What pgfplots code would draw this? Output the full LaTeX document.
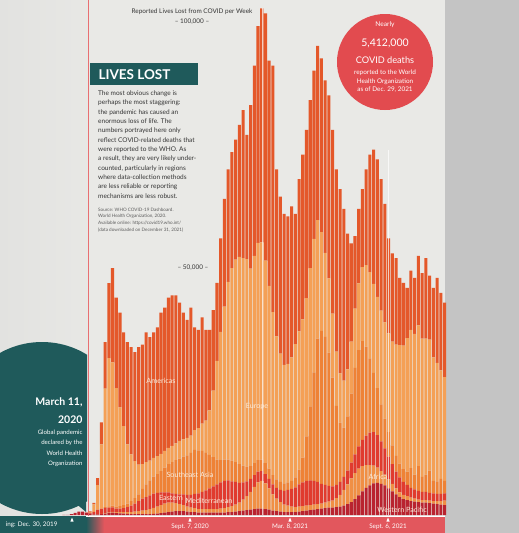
\documentclass[border=0pt]{standalone}
\usepackage{pgfplots}
\pgfplotsset{compat=1.18}
\usepackage{pgfplotstable}
\usepackage{fontspec}
\setmainfont{Lato}
\definecolor{amr}{HTML}{E4582A}
\definecolor{eur}{HTML}{F4A056}
\definecolor{sear}{HTML}{EE8236}
\definecolor{emr}{HTML}{E03B2E}
\definecolor{afr}{HTML}{F08F45}
\definecolor{wpr}{HTML}{B9232F}
\definecolor{tealbox}{HTML}{1F5A5B}
\definecolor{coral}{HTML}{E24B4F}
\definecolor{bandred}{HTML}{E2575D}
\definecolor{pagebg}{HTML}{E9E9E6}
\definecolor{leftbg}{HTML}{E2E2E0}
\definecolor{sidegrey}{HTML}{C4C4C4}
\definecolor{txt}{HTML}{353535}
\definecolor{cream}{HTML}{FCEBD8}

% weekly reported deaths by WHO region, thousands; week 0 = Dec. 30, 2019
\pgfplotstableread{
w wpr afr emr sear eur amr
0 0 0 0 0 0 0
1 0 0 0 0 0 0
2 0.01 0 0 0 0 0
3 0.05 0 0 0 0 0
4 0.2 0 0 0 0 0
5 0.45 0 0 0 0 0
6 0.7 0 0 0 0 0
7 0.7 0 0 0 0 0
8 0.45 0 0.02 0 0 0.03
9 0.3 0 0.15 0 0.2 0.1
10 0.15 0 0.5 0 1.5 0.3
11 0.15 0.01 0.9 0.01 5 1.4
12 0.2 0.03 1.0 0.05 13 4.5
13 0.3 0.06 1.1 0.15 24 9.4
14 0.4 0.1 1.0 0.25 30 15.2
15 0.5 0.15 0.9 0.35 29 19.1
16 0.4 0.2 0.7 0.4 24 18.3
17 0.35 0.25 0.7 0.5 20 19.2
18 0.3 0.3 0.8 0.6 16 19
19 0.25 0.35 1.0 0.7 12 20.7
20 0.2 0.4 1.3 0.9 9.5 21.7
21 0.2 0.5 1.6 1.1 7.5 22.1
22 0.2 0.6 2.0 1.4 6 23.8
23 0.2 0.7 2.4 2.0 5 24.2
24 0.2 0.8 2.6 2.6 4.5 26.3
25 0.2 1.0 2.8 3.0 4 25
26 0.25 1.2 2.9 3.4 3.8 25.45
27 0.3 1.4 2.8 3.8 3.6 26.1
28 0.4 1.6 2.6 4.3 3.5 28.6
29 0.5 1.8 2.3 5.0 3.4 29
30 0.6 1.9 2.1 5.7 3.3 30.4
31 0.7 1.8 1.9 6.3 3.3 30.5
32 0.8 1.6 1.9 6.8 3.4 30
33 0.8 1.4 2.0 7.2 3.6 28
34 0.8 1.2 2.2 7.6 3.5 25.7
35 0.7 1.0 2.4 8.0 3.5 23.9
36 0.6 0.9 2.6 8.5 3.5 25.9
37 0.6 0.8 2.9 8.9 4 20.8
38 0.5 0.7 3.2 8.7 4.5 19.9
39 0.5 0.7 3.5 8.3 5.5 21.5
40 0.5 0.7 3.8 7.6 6.5 18.4
41 0.5 0.7 4.2 6.8 9 16.3
42 0.5 0.7 4.6 5.9 13.5 16.3
43 0.5 0.7 5.0 5.0 20 15.8
44 0.5 0.8 5.3 4.5 26 18.9
45 0.5 0.9 5.5 4.3 31 21.8
46 0.6 1.0 5.4 4.2 36 22.8
47 0.6 1.2 5.0 4.2 39 23.5
48 0.7 1.4 4.6 4.0 41 24.3
49 0.8 1.7 4.0 3.8 42 26.7
50 0.9 2.2 3.5 3.4 42 30
51 1.0 2.8 3.0 3.0 42 25.2
52 1.1 3.6 2.6 2.6 40 33.1
53 1.2 4.5 2.4 2.4 42 38.5
54 1.3 5.3 2.2 2.3 44 43.9
55 1.3 5.6 2.0 2.3 44 47.4
56 1.2 5.2 1.9 2.2 41 50.1
57 1.1 4.3 1.9 2.1 37 45.6
58 0.9 3.3 2.0 1.9 33 49.9
59 0.8 2.5 2.2 1.7 29 33.8
60 0.7 1.9 2.5 1.6 26 31.8
61 0.6 1.5 2.8 1.5 24 30.6
62 0.6 1.3 3.2 1.5 24 29.9
63 0.6 1.1 3.6 1.6 25 30.6
64 0.6 1.0 4.0 2.0 27 26.4
65 0.7 1.0 4.5 3.0 28 30.8
66 0.8 1.0 4.8 5.0 28 33.4
67 0.9 1.0 5.0 9.0 28 34.1
68 1.0 1.0 5.0 15 28 34
69 1.1 1.0 4.8 22 27 34.1
70 1.2 1.0 4.5 29 24 35.3
71 1.3 1.0 4.0 31 20 35.2
72 1.4 1.1 3.6 30 17 34.9
73 1.5 1.2 3.2 27 15 37.1
74 1.5 1.4 2.9 22 13 37.2
75 1.6 1.8 2.7 16 11 36.9
76 1.7 2.4 2.6 12 10 37.3
77 1.9 3.2 2.6 10 9.5 34.8
78 2.2 4.0 2.8 11 9.5 27.5
79 2.6 4.8 3.2 14 10.5 19.9
80 3.2 5.3 3.8 17.5 12 14.7
81 4.0 5.4 4.5 19.5 13.5 15.1
82 4.8 5.1 5.3 20 15 15.8
83 5.5 4.6 6.0 18 16.5 19.4
84 6.0 4.1 6.6 15 17.5 23.8
85 6.4 3.6 6.8 12 18 27.2
86 6.5 3.1 6.6 9.5 18.5 27.8
87 6.3 2.6 6.0 7.5 19 26.6
88 6.0 2.2 5.3 6.0 19.5 24
89 5.4 1.8 4.6 5.0 20 19.2
90 4.8 1.5 4.0 3.8 21 17.9
91 4.2 1.2 3.4 3.2 22.5 17.5
92 3.6 1.0 3.0 2.8 24 13.6
93 3.2 0.9 2.6 2.6 25 12.7
94 3.0 0.8 2.3 2.7 27 10.2
95 2.8 0.7 2.0 4.0 28 12
96 2.7 0.6 1.9 3.0 28.5 11.3
97 2.6 0.5 1.8 5.0 28.5 14.1
98 2.5 0.5 1.7 3.0 28 13.3
99 2.5 0.5 1.7 3.5 27.5 16.3
100 2.4 0.5 1.6 4.5 26.5 13
101 2.3 0.5 1.6 2.5 25 14.1
102 2.2 0.6 1.5 2.5 24 17.2
103 2.1 0.7 1.5 3.0 22 15.7
104 2.0 0.9 1.5 2.5 21 15.1
}\deaths

\begin{document}
\begin{tikzpicture}[x=1pt,y=-1pt]
\path[use as bounding box] (0,0) rectangle (519,533);
\clip (0,0) rectangle (519,533);
% backgrounds
\fill[pagebg] (0,0) rectangle (519,533);
\shade[left color=leftbg, right color=pagebg!80!leftbg] (0,0) rectangle (88,533);
\fill[sidegrey] (445,0) rectangle (519,533);
\draw[color=coral!80!white, line width=1.6pt] (88.5,0) -- (88.5,533);

% title and scale labels
\node[font=\fontsize{6.4}{7}\selectfont, text=txt] at (192,12) {Reported Lives Lost from COVID per Week};
\node[font=\fontsize{6.4}{7}\selectfont, text=txt] at (192,22) {-- 100,000 --};
\node[font=\fontsize{6.4}{7}\selectfont, text=txt] at (193,268) {-- 50,000 --};

% stacked bars
\begin{scope}[x=1pt,y=1pt]
\begin{axis}[at={(54.7pt,-515pt)}, anchor=south west, scale only axis,
  width=391.7pt, height=515pt,
  xmin=-0.5, xmax=104.5, ymin=0, ymax=104.3,
  hide axis, ybar stacked, bar width=0.82]
\addplot[fill=wpr, draw=none] table[x=w, y=wpr] {\deaths};
\addplot[fill=afr, draw=none] table[x=w, y=afr] {\deaths};
\addplot[fill=emr, draw=none] table[x=w, y=emr] {\deaths};
\addplot[fill=sear, draw=none] table[x=w, y=sear] {\deaths};
\addplot[fill=eur, draw=none] table[x=w, y=eur] {\deaths};
\addplot[fill=amr, draw=none] table[x=w, y=amr] {\deaths};
\end{axis}
\end{scope}

% light marker lines
\draw[white, opacity=0.7, line width=0.6pt] (262,8) -- (262,515);
\draw[white, opacity=0.7, line width=0.6pt] (388,150) -- (388,515);

% region labels
\begin{scope}[font=\fontsize{7.2}{8}\selectfont, text=cream]
\node at (161,381) {Americas};
\node at (257,407) {Europe};
\node at (190,475) {Southeast Asia};
\node at (171,498) {Eastern};
\node at (209,501) {Mediterranean};
\node at (378,477) {Africa};
\node at (402,510) {Western Pacific};
\end{scope}

% LIVES LOST box and text
\fill[tealbox] (90,63) rectangle (198,85);
\node[anchor=west, font=\bfseries\fontsize{13.5}{14}\selectfont, text=white] at (95,74.5) {LIVES LOST};
\node[anchor=north west, align=left, inner sep=0pt, text=txt,
      font=\fontsize{6.5}{9.35}\selectfont] at (98,90.5) {The most obvious change is\\
perhaps the most staggering:\\
the pandemic has caused an\\
enormous loss of life. The\\
numbers portrayed here only\\
reflect COVID-related deaths that\\
were reported to the WHO. As\\
a result, they are very likely under-\\
counted, particularly in regions\\
where data-collection methods\\
are less reliable or reporting\\
mechanisms are less robust.};
\node[anchor=north west, align=left, inner sep=0pt, text=txt!80!white,
      font=\fontsize{4.6}{6.9}\selectfont] at (98,207.5) {Source: WHO COVID-19 Dashboard.\\
World Health Organization, 2020.\\
Available online: https://covid19.who.int/\\
(data downloaded on December 31, 2021)};

% red circle
\fill[coral] (385,62) circle[radius=48];
\begin{scope}[text=white]
\node[font=\fontsize{6.6}{7}\selectfont] at (385,25) {Nearly};
\node[font=\fontsize{10.5}{11}\selectfont] at (385,43) {5,412,000};
\node[font=\fontsize{9.2}{10}\selectfont] at (385,60) {COVID deaths};
\node[font=\fontsize{6.4}{7}\selectfont] at (385,73) {reported to the World};
\node[font=\fontsize{6.4}{7}\selectfont] at (385,81.5) {Health Organization};
\node[font=\fontsize{6.4}{7}\selectfont] at (385,90) {as of Dec. 29, 2021};
\end{scope}

% speech bubble
\begin{scope}
\clip (0,300) rectangle (87,520);
\fill[tealbox] (42,428) circle[radius=86];
\end{scope}
\fill[tealbox] (60,490) -- (86,490) -- (86,512) -- cycle;
\begin{scope}[text=white]
\node[anchor=east, font=\bfseries\fontsize{10.5}{11}\selectfont] at (86,402) {March 11,};
\node[anchor=east, font=\bfseries\fontsize{10.5}{11}\selectfont] at (86,420) {2020};
\node[anchor=east, font=\fontsize{6.1}{7}\selectfont] at (86,433) {Global pandemic};
\node[anchor=east, font=\fontsize{6.1}{7}\selectfont] at (86,443) {declared by the};
\node[anchor=east, font=\fontsize{6.1}{7}\selectfont] at (86,453) {World Health};
\node[anchor=east, font=\fontsize{6.1}{7}\selectfont] at (86,464) {Organization};
\end{scope}

% bottom bands
\fill[tealbox] (0,516) rectangle (86,533);
\shade[left color=tealbox, right color=bandred] (86,517) rectangle (104,533);
\fill[bandred] (104,517) rectangle (445,533);
\draw[white, line width=0.8pt] (86,516.6) -- (445,516.6);
\foreach \xx in {72,190,290,388} {
  \fill[white] (\xx-1.6,521.5) -- (\xx+1.6,521.5) -- (\xx,517.5) -- cycle;
}
\begin{scope}[text=white, font=\fontsize{6.3}{7}\selectfont]
\node[anchor=east] at (61,525) {ing: Dec. 30, 2019};
\node at (190,527) {Sept. 7, 2020};
\node at (290,527) {Mar. 8, 2021};
\node at (388,527) {Sept. 6, 2021};
\end{scope}
\end{tikzpicture}
\end{document}
